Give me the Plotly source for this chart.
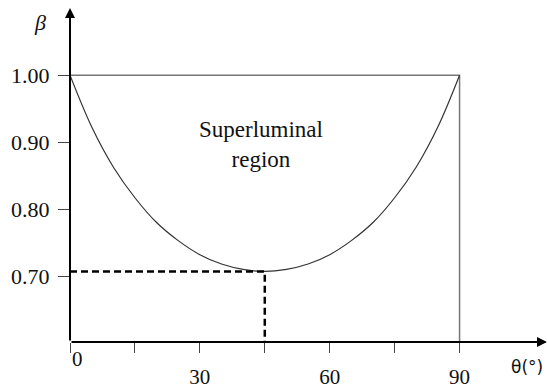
import plotly.graph_objects as go

# Superluminal threshold beta(theta), read at 5-degree steps
theta_deg = [0, 5, 10, 15, 20, 25, 30, 35, 40, 45, 50, 55, 60, 65, 70, 75, 80, 85, 90]
beta_min = [1.000, 0.923, 0.863, 0.817, 0.780, 0.753, 0.732, 0.718, 0.710, 0.707,
            0.710, 0.718, 0.732, 0.753, 0.780, 0.817, 0.863, 0.923, 1.000]

# Marked minimum
theta_star = 45
beta_star = 0.707

y_ticks = [0.70, 0.80, 0.90, 1.00]
y_tick_text = ["0.70", "0.80", "0.90", "1.00"]
x_ticks = [0, 15, 30, 45, 60, 75, 90]
x_tick_text = ["", "", "30", "", "60", "", "90"]

X_MAX = 110.2
Y_MIN, Y_MAX = 0.6016, 1.1123
SERIF = "Liberation Serif"
INK = "#000000"
TEXT = "#111111"

W, H = 547, 389
L, R, T, B = 70, 0, 0, 39
pw, ph = W - L - R, H - T - B


def px(x, y):
    """Pixel position -> paper fractions."""
    return (x - L) / pw, 1 - (y - T) / ph


fig = go.Figure()

# Boundary box: top at beta = 1 and right side at theta = 90
fig.add_trace(go.Scatter(x=[0, 90, 90], y=[1.0, 1.0, Y_MIN], mode="lines",
                         line=dict(color="#777777", width=1.5),
                         hoverinfo="skip", showlegend=False, cliponaxis=False))

# Threshold curve
fig.add_trace(go.Scatter(x=theta_deg, y=beta_min, mode="lines",
                         line=dict(color="#333333", width=1.2, shape="spline"),
                         showlegend=False))

# Dashed guides to the minimum
fig.add_trace(go.Scatter(x=[0, theta_star, theta_star], y=[beta_star, beta_star, Y_MIN],
                         mode="lines", line=dict(color=INK, width=2.5, dash="7px,4px"),
                         hoverinfo="skip", showlegend=False, cliponaxis=False))

# Axes with arrowheads
fig.add_annotation(x=X_MAX, y=Y_MIN, ax=0, ay=Y_MIN, xref="x", yref="y",
                   axref="x", ayref="y", showarrow=True, arrowhead=2,
                   arrowsize=1, arrowwidth=2, arrowcolor=INK, text="")
fig.add_annotation(x=0, y=1.1002, ax=0, ay=Y_MIN, xref="x", yref="y",
                   axref="x", ayref="y", showarrow=True, arrowhead=2,
                   arrowsize=1, arrowwidth=2, arrowcolor=INK, text="")

# Axis titles and the origin label
bx, by = px(40, 23)
fig.add_annotation(x=bx, y=by, xref="paper", yref="paper", text="<i>β</i>",
                   showarrow=False, font=dict(family=SERIF, size=22, color=TEXT),
                   xanchor="center", yanchor="middle")
tx, ty = px(509, 376)
fig.add_annotation(x=tx, y=ty, xref="paper", yref="paper", text="θ(°)",
                   showarrow=False, font=dict(family="DejaVu Sans", size=17, color=TEXT),
                   xanchor="left", yanchor="middle")
ox, oy = px(77, 367)
fig.add_annotation(x=ox, y=oy, xref="paper", yref="paper", text="0",
                   showarrow=False, font=dict(family=SERIF, size=21, color=TEXT),
                   xanchor="center", yanchor="middle")

# Region label
rx, ry = px(261, 148)
fig.add_annotation(x=rx, y=ry, xref="paper", yref="paper", text="Superluminal<br>region",
                   showarrow=False, font=dict(family=SERIF, size=23, color=TEXT),
                   xanchor="center", yanchor="middle", align="center")

fig.update_layout(
    width=W, height=H, autosize=False,
    margin=dict(l=L, r=R, t=T, b=B),
    paper_bgcolor="white", plot_bgcolor="white",
    xaxis=dict(range=[0, X_MAX], tickvals=x_ticks, ticktext=x_tick_text,
               ticks="outside", ticklen=10, tickwidth=1.2, tickcolor="#444444",
               showgrid=False, zeroline=False, showline=False,
               tickfont=dict(family=SERIF, size=21, color=TEXT),
               ticklabelstandoff=6),
    yaxis=dict(range=[Y_MIN, Y_MAX], tickvals=y_ticks, ticktext=y_tick_text,
               ticks="outside", ticklen=11, tickwidth=1.2, tickcolor="#444444",
               showgrid=False, zeroline=False, showline=False,
               tickfont=dict(family=SERIF, size=22, color=TEXT),
               ticklabelstandoff=4),
)

fig.write_html("out.html")
